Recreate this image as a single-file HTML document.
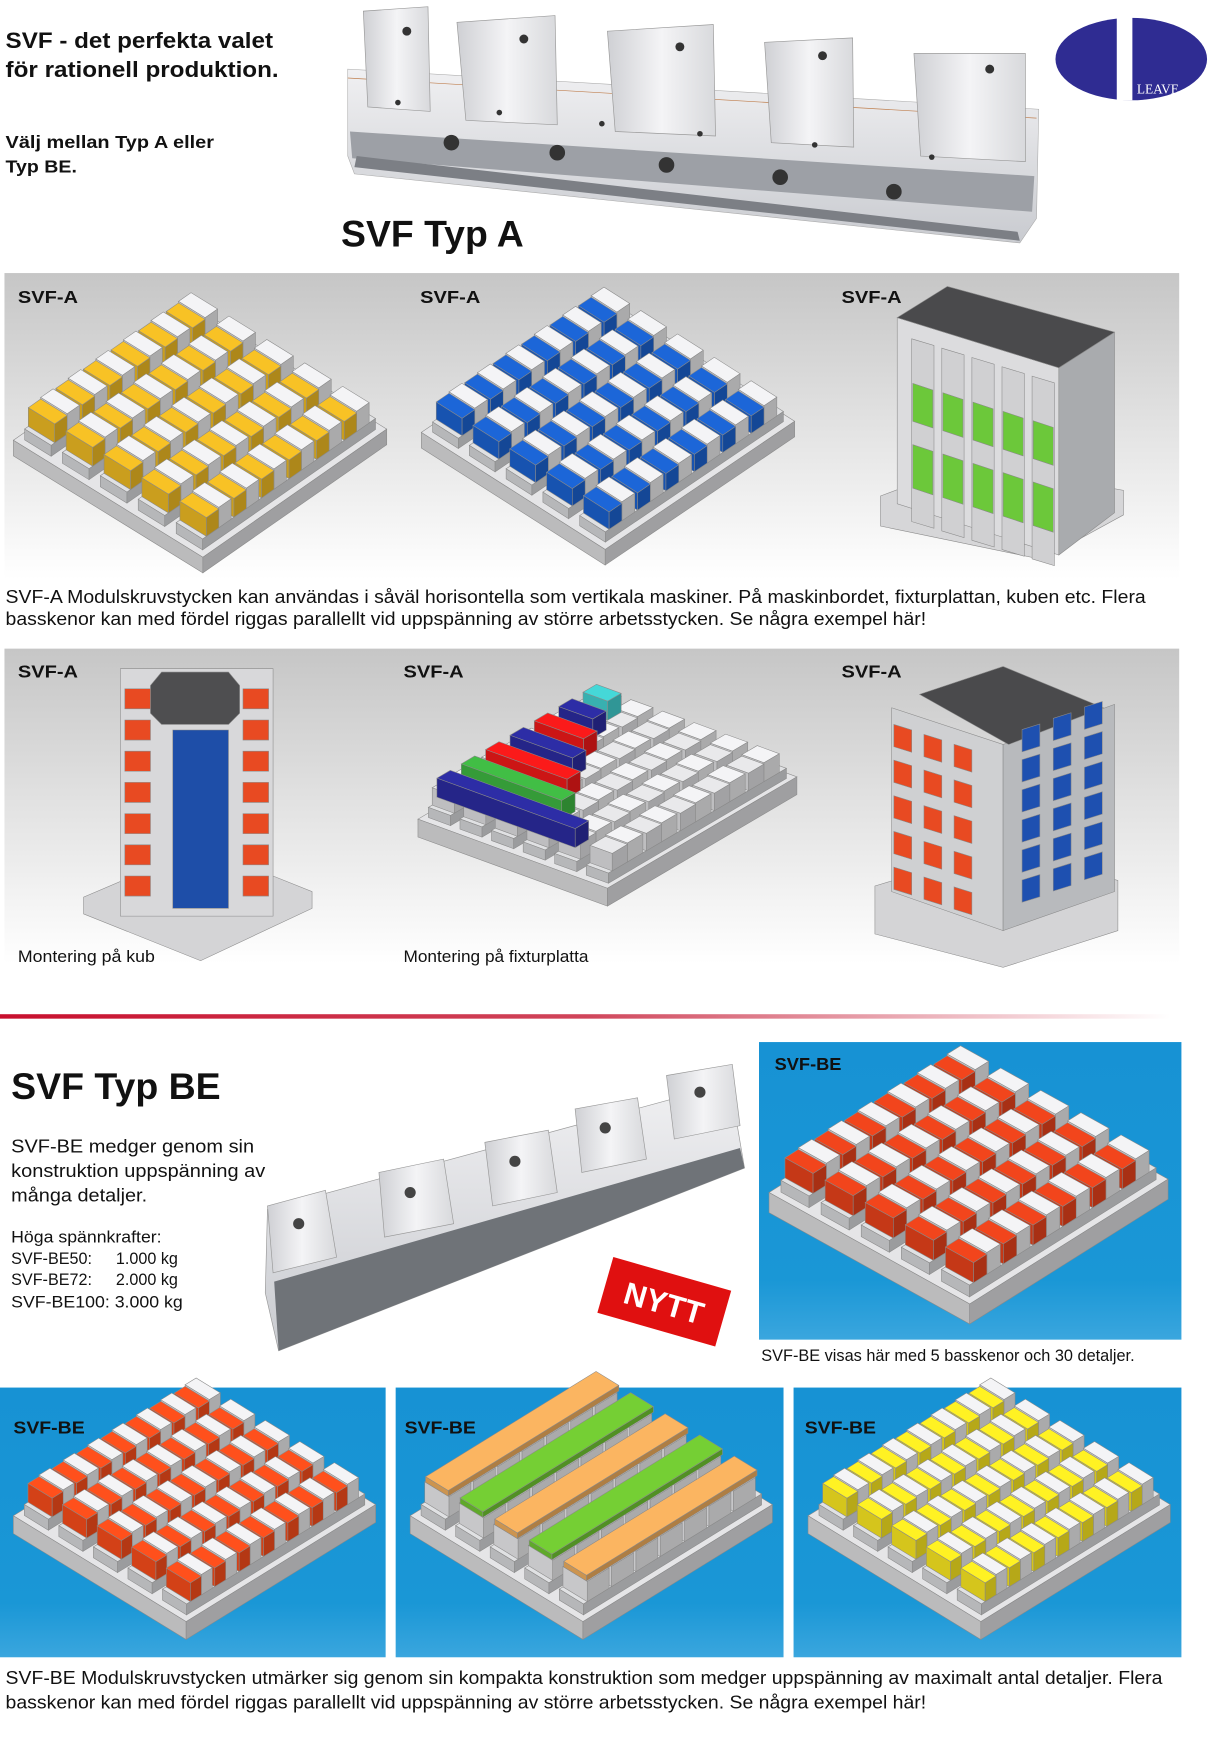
<!DOCTYPE html>
<html><head><meta charset="utf-8"><style>
html,body{margin:0;padding:0;background:#fff;width:1226px;height:1749px;overflow:hidden}
svg{display:block}
text{font-family:"Liberation Sans",Arial,sans-serif;fill:#111}
.b{font-weight:bold}
</style></head><body>
<svg id="s" xmlns="http://www.w3.org/2000/svg" width="1226" height="1749" viewBox="0 0 1100 1569.3" preserveAspectRatio="none">
<defs>
<linearGradient id="gp" x1="0" y1="0" x2="0" y2="1"><stop offset="0" stop-color="#c6c6c6"/><stop offset="1" stop-color="#ffffff"/></linearGradient>
<linearGradient id="rl" x1="0" y1="0" x2="1" y2="0"><stop offset="0" stop-color="#c8102e"/><stop offset="0.5" stop-color="#d0455a"/><stop offset="1" stop-color="#ffffff"/></linearGradient>
<linearGradient id="bl" x1="0" y1="0" x2="0" y2="1"><stop offset="0" stop-color="#1792d4"/><stop offset="0.8" stop-color="#1a97d6"/><stop offset="1" stop-color="#3aa6de"/></linearGradient>
<linearGradient id="vz" x1="0" y1="0" x2="0" y2="1"><stop offset="0" stop-color="#f0f0f2"/><stop offset="1" stop-color="#c9cbd0"/></linearGradient>
<linearGradient id="jw" x1="0" y1="0" x2="1" y2="0"><stop offset="0" stop-color="#cfd0d4"/><stop offset="0.5" stop-color="#f4f4f6"/><stop offset="1" stop-color="#d8d9dc"/></linearGradient>
</defs>
<rect x="4" y="245" width="1054" height="275" fill="url(#gp)"/>
<rect x="4" y="582" width="1054" height="283" fill="url(#gp)"/>
<rect x="0" y="910" width="1050" height="4" fill="url(#rl)"/>
<rect x="681" y="935" width="379" height="267" fill="url(#bl)"/>
<rect x="0" y="1245" width="346" height="242" fill="url(#bl)"/>
<rect x="355" y="1245" width="348" height="242" fill="url(#bl)"/>
<rect x="712" y="1245" width="348" height="242" fill="url(#bl)"/>
<g id="art"></g>
<!-- top vise -->
<g>
<polygon points="312,62 932,98 930,196 915,218 318,156 312,140" fill="url(#vz)" stroke="#aaa" stroke-width="0.5"/>
<polygon points="314,118 928,158 926,190 316,142" fill="#9da0a6"/>
<polygon points="318,150 915,216 913,208 320,140" fill="#7c7f85"/>
<line x1="312" y1="70" x2="930" y2="106" stroke="#c08050" stroke-width="0.6"/>
<g fill="url(#jw)" stroke="#999" stroke-width="0.6">
<polygon points="326,10 384,6 386,100 330,96"/><polygon points="410,20 498,14 500,112 418,108"/>
<polygon points="545,28 640,22 642,122 552,118"/><polygon points="686,38 765,34 766,132 692,128"/>
<polygon points="820,48 920,48 920,145 826,140"/></g>
<g fill="#333"><circle cx="405" cy="128" r="7"/><circle cx="500" cy="137" r="7"/><circle cx="598" cy="148" r="7"/><circle cx="700" cy="159" r="7"/><circle cx="802" cy="172" r="7"/>
<circle cx="357" cy="92" r="2.5"/><circle cx="448" cy="101" r="2.5"/><circle cx="540" cy="111" r="2.5"/><circle cx="628" cy="120" r="2.5"/><circle cx="731" cy="130" r="2.5"/><circle cx="836" cy="141" r="2.5"/>
<circle cx="365" cy="28" r="4"/><circle cx="470" cy="35" r="4"/><circle cx="610" cy="42" r="4"/><circle cx="738" cy="50" r="4"/><circle cx="888" cy="62" r="4"/></g>
</g>
<!-- logo -->
<ellipse cx="1015" cy="53" rx="68" ry="37" fill="#2f2c92"/>
<rect x="1002" y="14" width="14" height="76" fill="#fff"/>
<text x="1020" y="84" font-size="12" style="font-family:'Liberation Serif',serif;fill:#fff">LEAVE</text>
<!-- BE vise -->
<g>
<polygon points="240,1085 655,972 668,1048 250,1212 238,1160" fill="url(#vz)" stroke="#999" stroke-width="0.6"/>
<polygon points="246,1150 664,1030 668,1048 250,1212" fill="#6f7378"/>
<g fill="url(#jw)" stroke="#999" stroke-width="0.6">
<polygon points="240,1082 292,1068 302,1128 245,1142"/><polygon points="340,1052 398,1040 407,1098 345,1110"/>
<polygon points="435,1025 492,1014 500,1070 442,1082"/><polygon points="516,995 572,985 580,1040 522,1052"/>
<polygon points="598,965 657,955 664,1010 605,1022"/></g>
<g fill="#444"><circle cx="268" cy="1098" r="5"/><circle cx="368" cy="1070" r="5"/><circle cx="462" cy="1042" r="5"/><circle cx="543" cy="1012" r="5"/><circle cx="628" cy="980" r="5"/></g>
</g>
<g transform="translate(596,1168) rotate(16)"><rect x="-55" y="-26" width="110" height="52" fill="#e01010"/><text x="0" y="11" text-anchor="middle" font-size="28" style="fill:#fff;font-weight:bold">NYTT</text></g>
<!-- texts -->
<text class="b" x="5" y="43" font-size="19.5" textLength="240" lengthAdjust="spacingAndGlyphs">SVF - det perfekta valet</text>
<text class="b" x="5" y="69" font-size="19.5" textLength="245" lengthAdjust="spacingAndGlyphs">för rationell produktion.</text>
<text class="b" x="5" y="133" font-size="16" textLength="187" lengthAdjust="spacingAndGlyphs">Välj mellan Typ A eller</text>
<text class="b" x="5" y="155" font-size="16" textLength="64" lengthAdjust="spacingAndGlyphs">Typ BE.</text>
<text class="b" x="306" y="221" font-size="33" textLength="164" lengthAdjust="spacingAndGlyphs">SVF Typ A</text>
<g font-size="16"><text class="b" x="16" y="272" textLength="54" lengthAdjust="spacingAndGlyphs">SVF-A</text><text class="b" x="377" y="272" textLength="54" lengthAdjust="spacingAndGlyphs">SVF-A</text><text class="b" x="755" y="272" textLength="54" lengthAdjust="spacingAndGlyphs">SVF-A</text>
<text class="b" x="16" y="608" textLength="54" lengthAdjust="spacingAndGlyphs">SVF-A</text><text class="b" x="362" y="608" textLength="54" lengthAdjust="spacingAndGlyphs">SVF-A</text><text class="b" x="755" y="608" textLength="54" lengthAdjust="spacingAndGlyphs">SVF-A</text></g>
<text x="5" y="541" font-size="16.5" textLength="1023" lengthAdjust="spacingAndGlyphs">SVF-A Modulskruvstycken kan användas i såväl horisontella som vertikala maskiner. På maskinbordet, fixturplattan, kuben etc. Flera</text>
<text x="5" y="561" font-size="16.5" textLength="826" lengthAdjust="spacingAndGlyphs">basskenor kan med fördel riggas parallellt vid uppspänning av större arbetsstycken. Se några exempel här!</text>
<text x="16" y="863" font-size="14.5" textLength="123" lengthAdjust="spacingAndGlyphs">Montering på kub</text>
<text x="362" y="863" font-size="14.5" textLength="166" lengthAdjust="spacingAndGlyphs">Montering på fixturplatta</text>
<text class="b" x="10" y="986" font-size="33" textLength="188" lengthAdjust="spacingAndGlyphs">SVF Typ BE</text>
<text x="10" y="1034" font-size="16.5" textLength="218" lengthAdjust="spacingAndGlyphs">SVF-BE medger genom sin</text>
<text x="10" y="1056" font-size="16.5" textLength="228" lengthAdjust="spacingAndGlyphs">konstruktion uppspänning av</text>
<text x="10" y="1078" font-size="16.5" textLength="122" lengthAdjust="spacingAndGlyphs">många detaljer.</text>
<text x="10" y="1115" font-size="14.5" textLength="135" lengthAdjust="spacingAndGlyphs">Höga spännkrafter:</text>
<text x="10" y="1134" font-size="14.5">SVF-BE50:</text><text x="104" y="1134" font-size="14.5">1.000 kg</text>
<text x="10" y="1153" font-size="14.5">SVF-BE72:</text><text x="104" y="1153" font-size="14.5">2.000 kg</text>
<text x="10" y="1173" font-size="14.5" textLength="154" lengthAdjust="spacingAndGlyphs">SVF-BE100: 3.000 kg</text>
<text class="b" x="695" y="960" font-size="16" textLength="60" lengthAdjust="spacingAndGlyphs">SVF-BE</text>
<text x="683" y="1221" font-size="14.5" textLength="335" lengthAdjust="spacingAndGlyphs">SVF-BE visas här med 5 basskenor och 30 detaljer.</text>
<text class="b" x="12" y="1286" font-size="16" textLength="64" lengthAdjust="spacingAndGlyphs">SVF-BE</text>
<text class="b" x="363" y="1286" font-size="16" textLength="64" lengthAdjust="spacingAndGlyphs">SVF-BE</text>
<text class="b" x="722" y="1286" font-size="16" textLength="64" lengthAdjust="spacingAndGlyphs">SVF-BE</text>
<text x="5" y="1511" font-size="16.5" textLength="1038" lengthAdjust="spacingAndGlyphs">SVF-BE Modulskruvstycken utmärker sig genom sin kompakta konstruktion som medger uppspänning av maximalt antal detaljer. Flera</text>
<text x="5" y="1533" font-size="16.5" textLength="826" lengthAdjust="spacingAndGlyphs">basskenor kan med fördel riggas parallellt vid uppspänning av större arbetsstycken. Se några exempel här!</text>
</svg>
<script>
var NS='http://www.w3.org/2000/svg',art=document.getElementById('art');
function poly(pts,fill,stroke){var p=document.createElementNS(NS,'polygon');p.setAttribute('points',pts.map(function(q){return q[0].toFixed(1)+','+q[1].toFixed(1)}).join(' '));p.setAttribute('fill',fill);p.setAttribute('stroke',stroke||'#8a8a8a');p.setAttribute('stroke-width','0.5');art.appendChild(p);}
function shade(c,f){var n=parseInt(c.slice(1),16),r=(n>>16)&255,g=(n>>8)&255,b=n&255;r=Math.min(255,Math.round(r*f));g=Math.min(255,Math.round(g*f));b=Math.min(255,Math.round(b*f));return 'rgb('+r+','+g+','+b+')';}
function box(P,u0,u1,v0,v1,z0,z1,c){
 poly([P(u0,v0,z1),P(u1,v0,z1),P(u1,v1,z1),P(u0,v1,z1)],shade(c,1.08));
 poly([P(u0,v0,z0),P(u1,v0,z0),P(u1,v0,z1),P(u0,v0,z1)],shade(c,0.88));
 poly([P(u1,v0,z0),P(u1,v1,z0),P(u1,v1,z1),P(u1,v0,z1)],shade(c,0.75));
}
function scene(c){
 var O=c.O,U=c.U,V=c.V;
 var P=function(u,v,z){return [O[0]+u*U[0]+v*V[0],O[1]+u*U[1]+v*V[1]-z];};
 box(P,0,1,0,1,-c.th,0,'#d4d4d6');
 var R=c.rails,B=c.blocks,h=c.h;
 for(var r=0;r<R;r++){
  var u0=(r+0.15)/R,u1=(r+0.85)/R;
  box(P,u0,u1,0.03,0.97,0,h*0.35,'#cfd0d2');
  for(var b=B-1;b>=0;b--){
   var v0=0.05+b*0.9/B,v1=v0+0.9/B*0.9,vm=v0+(v1-v0)*0.5;
   if(c.bars){box(P,u0,u1,v0,v1,h*0.35,h,'#e2e2e4');}
   else{box(P,u0,u1,vm,v1,h*0.35,h,'#e2e2e4');box(P,u0,u1,v0,vm,h*0.35,h*0.95,c.color);}
  }
  if(c.bars){box(P,u0+0.02/R,u1-0.02/R,0.05,0.95,h,h+5,c.bars[r%c.bars.length]);}
 }
 if(c.xbars){for(var k=c.xbars.length-1;k>=0;k--){var v0=0.08+k*0.9/c.xbars.length,v1=v0+0.9/c.xbars.length*0.55;var ue=c.xlen[k];box(P,0.02,ue,v0,v1,h*0.5,h+4,c.xbars[k]);}}
}
scene({O:[12,395],U:[170,105],V:[165,-115],rails:5,blocks:6,h:28,th:14,color:'#e6b422'});
scene({O:[378,388],U:[165,105],V:[170,-115],rails:5,blocks:6,h:26,th:14,color:'#1a5ec8'});
scene({O:[375,735],U:[170,62],V:[170,-100],rails:6,blocks:5,h:26,th:16,color:'#d8d8da',xbars:['#2a2a9a','#3cb040','#e81818','#2a2a9a','#e81818','#2a2a9a','#40c8c8'],xlen:[0.75,0.55,0.45,0.35,0.28,0.2,0.15]});
scene({O:[690,1070],U:[180,100],V:[178,-112],rails:5,blocks:6,h:30,th:18,color:'#e0401a'});
scene({O:[12,1360],U:[155,95],V:[170,-105],rails:5,blocks:7,h:28,th:16,color:'#f04a1a'});
scene({O:[368,1360],U:[155,95],V:[170,-105],rails:5,blocks:7,h:28,th:16,color:'#dddddd',bars:['#e8a85a','#6cc030']});
scene({O:[725,1360],U:[155,95],V:[170,-105],rails:5,blocks:7,h:28,th:16,color:'#f2e020'});
poly([[790,445],[870,415],[1008,440],[1008,462],[935,502],[790,472]],'#d6d6d8');
poly([[805,285],[950,330],[950,498],[805,452]],'#dcdcde');
poly([[950,330],[1000,298],[1000,460],[950,498]],'#a9abae');
poly([[805,285],[850,257],[1000,298],[950,330]],'#4a4a4c');
for(var i=0;i<5;i++){var x=818+i*27,yo=(x-805)*0.31;poly([[x,300+yo],[x+20,306+yo],[x+20,470+yo],[x,464+yo]],'#d0d0d2');
 poly([[x+1,340+yo],[x+19,346+yo],[x+19,380+yo],[x+1,374+yo]],'#6cc83a');poly([[x+1,395+yo],[x+19,401+yo],[x+19,440+yo],[x+1,434+yo]],'#6cc83a');}
poly([[75,805],[180,760],[280,800],[280,815],[180,862],[75,820]],'#d4d4d6');
poly([[108,600],[245,600],[245,822],[108,822]],'#d8d8da');
poly([[145,603],[205,603],[215,615],[215,640],[205,650],[145,650],[135,640],[135,615]],'#4e4e50');
poly([[155,655],[205,655],[205,815],[155,815]],'#1e4ea8');
for(var j=0;j<7;j++){var y=618+j*28;poly([[112,y],[135,y],[135,y+18],[112,y+18]],'#e84a22');poly([[218,y],[241,y],[241,y+18],[218,y+18]],'#e84a22');}
poly([[785,795],[900,760],[1003,790],[1003,835],[900,868],[785,838]],'#d4d4d6');
poly([[800,635],[900,668],[900,835],[800,800]],'#cfd0d2');
poly([[900,668],[1000,632],[1000,800],[900,835]],'#b8babd');
poly([[825,623],[900,598],[990,635],[905,668]],'#4a4a4c');
for(var k=0;k<3;k++){var x=800+k*27;for(var m=0;m<5;m++){var y=650+(x-800)*0.33+m*32;poly([[x+2,y],[x+18,y+5],[x+18,y+25],[x+2,y+20]],'#e84a22');}}
for(var k=0;k<3;k++){var x=915+k*28;for(var m=0;m<6;m++){var y=660-(x-900)*0.36+m*27;poly([[x+2,y],[x+18,y-5],[x+18,y+15],[x+2,y+20]],'#1e50b0');}}
</script>
</body></html>
